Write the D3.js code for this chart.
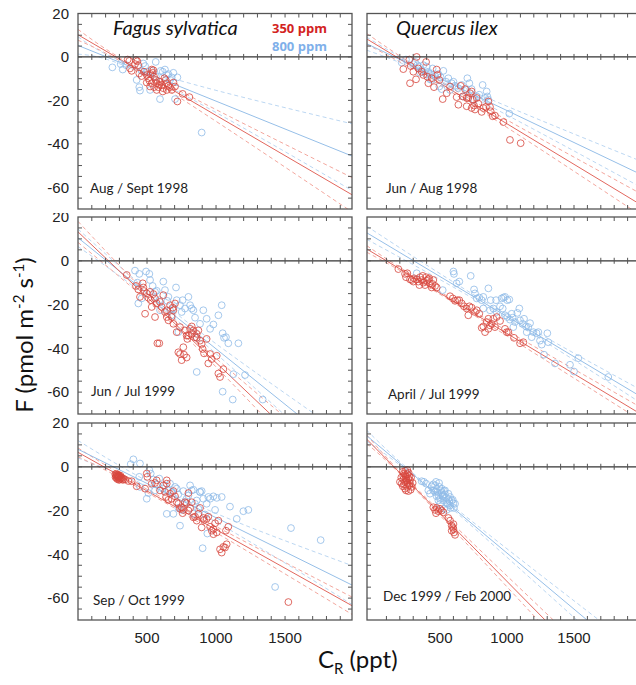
<!DOCTYPE html>
<html>
<head>
<meta charset="utf-8">
<script src="https://cdn.jsdelivr.net/npm/d3@7"></script>
<style>
  body { margin: 0; background: #fff; }
  svg { display: block; }
</style>
</head>
<body>
<svg id="chart" width="636" height="685"></svg>
<script>
// ---- data ----
const species = ["Fagus sylvatica", "Quercus ilex"];
const legendLabels = ["350 ppm", "800 ppm"];
const panelLabels = ["Aug / Sept 1998", "Jun / Aug 1998", "Jun / Jul 1999", "April / Jul 1999", "Sep / Oct 1999", "Dec 1999 / Feb 2000"];
const xTickLabels = [500, 1000, 1500];
const yTickLabels = [20, 0, -20, -40, -60];

// Fagus, Aug/Sept 1998
const fs98_350 = [[360,-1.2],[372,-1.8],[420,-1.5],[430,-2],[377,-5.3],[389,-6.4],[413,-3.3],[437,-3.8],[444,-7.6],[461,-8.8],[478,-6.8],[498,-8.3],[510,-9.8],[517,-10.9],[527,-7.9],[534,-5.8],[541,-7.3],[546,-6.1],[551,-9.1],[565,-10.6],[570,-12.1],[582,-13.9],[594,-11.4],[606,-12.9],[618,-14.4],[626,-9.8],[635,-10.6],[643,-12.1],[655,-13.3],[667,-13.9],[679,-15.2],[691,-11.8],[703,-13.6],[720,-20.5],[758,-17],[807,-18.5],[534,-12.1],[551,-13.9],[570,-15.2],[589,-12.9],[498,-11.8],[522,-13.6],[614,-15.9],[643,-15.2]];
const fs98_800 = [[249,-4.8],[309,-3.3],[324,-5.8],[348,-3.8],[425,-10.6],[444,-13.9],[449,-15.5],[473,-3],[486,-4.2],[563,-2.3],[522,-15.2],[594,-19.4],[599,-6.4],[630,-5.8],[643,-8.3],[655,-7.9],[679,-9.4],[691,-7.3],[703,-19.4],[720,-9.4],[896,-34.8],[534,-6.4],[565,-9.1],[498,-6.8],[461,-6.4],[667,-10.6],[614,-6.8]];
const fs98_fit350 = [[0,10.2],[2000,-64]];
const fs98_fit800 = [[0,5.3],[2000,-46]];
const fs98_band350 = [[[0,12.7],[570,-10],[2000,-56]], [[0,7.7],[570,-12],[2000,-72]]];
const fs98_band800 = [[[0,9.3],[550,-7.3],[2000,-31]], [[0,1.3],[550,-10.3],[2000,-62]]];

// Quercus, Jun/Aug 1998
const qi98_350 = [[271,-1.2],[326,0],[281,-4.2],[226,-5.6],[276,-12.1],[321,-10.3],[338,-5.3],[363,-6.8],[396,-2.3],[413,-12.1],[438,-9.8],[455,-13.9],[475,-5.8],[480,-8.3],[495,-10.6],[520,-19.4],[550,-16.7],[575,-13.6],[624,-18.5],[637,-22],[654,-13.3],[669,-18.2],[687,-14.8],[699,-18.9],[711,-18.9],[724,-16.7],[736,-15.9],[744,-19.7],[754,-22.4],[761,-24.2],[774,-18.9],[786,-21.5],[811,-25.3],[823,-23.5],[843,-23],[861,-20.5],[873,-23],[878,-25],[893,-27.3],[910,-27],[973,-30],[1022,-38.2],[1102,-39.7],[699,-22.7],[736,-23.5],[405,-9.1],[376,-8.3],[301,-6.8]];
const qi98_800 = [[214,-2.6],[246,-1.2],[301,-3.3],[313,-2.3],[331,-3.8],[346,-4.5],[363,-6.1],[376,-3.8],[396,-7.9],[413,-6.8],[425,-7.6],[445,-5.3],[463,-8.8],[488,-7.9],[505,-9.4],[525,-6.4],[545,-11.4],[562,-9.8],[575,-15.2],[587,-12.1],[600,-11.4],[612,-13.3],[637,-14.4],[662,-12.9],[674,-18.2],[704,-9.8],[719,-12.1],[736,-14.8],[754,-19.7],[774,-18.2],[793,-17.4],[818,-12.9],[836,-18.9],[848,-15.9],[853,-18.2],[861,-19.7],[1017,-26.1],[495,-13.6],[512,-14.8],[699,-15.2],[401,-4.5],[438,-10.6],[351,-7.3],[425,-10.3]];
const qi98_fit350 = [[-47,8.3],[2000,-68.1]];
const qi98_fit800 = [[-47,6.1],[2000,-54.1]];
const qi98_band350 = [[[-47,10.8],[650,-16.7],[2000,-63]], [[-47,5.8],[650,-18.7],[2000,-73]]];
const qi98_band800 = [[[-47,9.1],[600,-12],[2000,-48]], [[-47,3.1],[600,-14],[2000,-60]]];

// Fagus, Jun/Jul 1999
const fs99a_350 = [[353,-6.5],[420,-11.5],[437,-13.1],[449,-16.5],[469,-10.3],[473,-12.2],[478,-13.8],[486,-24.2],[498,-14.9],[510,-16.9],[527,-18],[534,-21.1],[546,-15.2],[558,-17.2],[570,-19.5],[575,-37.7],[589,-37.7],[606,-21.1],[618,-15.7],[630,-23.4],[643,-22.6],[655,-27.2],[667,-20.3],[679,-25.7],[691,-22.6],[703,-19.5],[715,-32.6],[727,-41.8],[739,-42.6],[751,-45.4],[763,-39.5],[768,-42.9],[775,-31.8],[787,-44.2],[792,-35.7],[800,-34.2],[812,-31.1],[824,-30],[836,-31.8],[848,-34.9],[860,-33.4],[872,-31.8],[884,-36.5],[896,-38],[903,-40.3],[913,-42.3],[932,-35.7],[944,-46.9],[957,-42.6],[969,-44.9],[1005,-43.4],[1017,-51.5],[1029,-53.1],[1053,-49.5],[558,-25.7],[643,-25.7],[691,-28.8],[739,-30.3],[787,-34.2],[824,-33.4],[860,-35.2],[686,-21.4],[594,-18.8],[522,-14.2]];
const fs99a_800 = [[413,-4.5],[444,-6],[493,-4.9],[517,-6],[430,-10],[437,-19.5],[461,-17.2],[522,-8.8],[541,-11.5],[558,-14.2],[570,-13.7],[589,-18],[594,-22.6],[618,-9.5],[630,-13.4],[647,-18.3],[667,-22.6],[679,-24.9],[691,-21.8],[715,-18],[727,-32.6],[751,-23.4],[758,-18],[775,-21.8],[800,-16.5],[812,-20.3],[824,-21.8],[836,-22.6],[848,-26],[860,-35.2],[884,-28.8],[908,-22.6],[932,-26.5],[957,-31.1],[981,-29.1],[1017,-24.9],[1041,-20.3],[1048,-33.1],[1058,-35.2],[1072,-34.9],[1089,-37.7],[1126,-51.8],[1162,-37.7],[1210,-52.2],[860,-50.8],[1048,-59.8],[1121,-63.4],[1338,-63.4],[739,-20.3],[655,-16.5],[710,-12.2]];
const fs99a_fit350 = [[0,13.2],[1500,-76.4]];
const fs99a_fit800 = [[0,10.5],[1800,-80.8]];
const fs99a_band350 = [[[0,18],[700,-27.4],[1500,-71.4]], [[0,8.4],[700,-29.8],[1500,-81.4]]];
const fs99a_band800 = [[[0,14.5],[750,-26],[1800,-73.8]], [[0,6.5],[750,-29],[1800,-87.8]]];

// Quercus, April/Jul 1999
const qi99_350 = [[189,-3.8],[239,-6],[256,-5.7],[246,-7.5],[276,-8.5],[289,-8.8],[306,-8],[326,-8.5],[338,-9.5],[351,-7.5],[363,-8.8],[376,-10],[388,-11.1],[401,-9.1],[413,-8.5],[425,-10.3],[438,-12.2],[450,-8.8],[463,-11.5],[475,-12.2],[371,-6.9],[396,-7.5],[420,-8],[445,-10.6],[575,-16.2],[595,-17.2],[612,-18.3],[629,-18],[644,-18],[662,-19.5],[679,-20.8],[699,-21.8],[711,-24.9],[719,-20.8],[736,-21.4],[761,-23.4],[774,-22.6],[793,-24.2],[811,-30.6],[823,-30],[836,-32.6],[848,-28],[861,-26.5],[873,-29.5],[886,-28.8],[898,-26.5],[910,-30.3],[923,-25.7],[948,-27.5],[985,-31.1],[998,-32.6],[1010,-32.6],[1052,-35.2],[1097,-37.7],[1122,-37.2],[861,-31.1],[301,-9.5],[346,-11.1]];
const qi99_800 = [[326,-5.7],[520,-13.4],[600,-4.9],[604,-6],[624,-10.3],[644,-9.5],[729,-6.9],[754,-13.1],[761,-14.9],[774,-17.2],[793,-16.8],[811,-18],[823,-16.5],[861,-12.6],[878,-18],[898,-21.8],[918,-18],[948,-20.8],[960,-17.2],[973,-16.8],[985,-16.5],[1002,-18],[1017,-17.7],[1035,-24.2],[968,-21.8],[985,-24.9],[1002,-25.7],[1022,-26.9],[1042,-26],[1060,-28],[1077,-23.8],[1092,-21.8],[1097,-27.2],[1117,-28.8],[1127,-26.5],[1142,-30],[1159,-30.3],[1172,-28.5],[1184,-34.9],[1197,-32.6],[1221,-33.1],[1234,-32.6],[1246,-36.5],[1259,-38.3],[1276,-42.9],[1301,-33.1],[1308,-37.2],[1358,-46.9],[1470,-47.5],[1500,-50.6],[1532,-44.5],[1756,-53.1],[823,-21.8],[873,-22.6],[923,-23.4],[1047,-30.3],[1147,-32.6]];
const qi99_fit350 = [[-47,5.4],[2000,-70.1]];
const qi99_fit800 = [[-47,12.8],[2000,-62.1]];
const qi99_band350 = [[[-47,6.9],[550,-16],[2000,-67]], [[-47,3.9],[550,-17.2],[2000,-73]]];
const qi99_band800 = [[[-47,15.8],[950,-22.9],[2000,-59]], [[-47,9.8],[950,-24.5],[2000,-65]]];

// Fagus, Sep/Oct 1999
const fs99b_350 = [[270,-3.5],[275,-4.2],[280,-3.8],[285,-4.6],[290,-4],[295,-5],[300,-4.4],[305,-5.3],[310,-4.8],[315,-5.6],[272,-4.8],[282,-5.2],[292,-4.5],[302,-5.8],[278,-3.2],[288,-3.6],[298,-3.9],[308,-4.1],[318,-5],[325,-6],[330,-5.5],[284,-5.6],[296,-6],[341,-5.8],[365,-6.5],[389,-6.6],[425,-8.9],[486,-10],[502,-4.6],[498,-3.1],[534,-7.7],[558,-7.4],[570,-6.2],[594,-10.8],[618,-8.5],[630,-11.5],[638,-13.8],[643,-6.2],[655,-15.1],[667,-12.3],[679,-14.6],[703,-13.5],[715,-16.2],[727,-16.9],[739,-19.2],[751,-18.5],[758,-21.2],[763,-19.7],[775,-16.2],[787,-16.6],[800,-20],[812,-18.8],[824,-16.2],[836,-23.1],[848,-22.8],[860,-24.6],[872,-21.5],[884,-18.8],[896,-27.7],[908,-23.4],[913,-24.3],[932,-23.8],[944,-22.8],[957,-27.4],[969,-29.2],[981,-30.8],[993,-25.8],[1017,-24.6],[1029,-37.7],[1041,-39.2],[1053,-36.6],[1065,-36.9],[1077,-35.4],[1072,-29.2],[1089,-27.4],[1524,-61.8],[691,-11.1],[981,-28.5],[1005,-30],[643,-7.7],[800,-12]];
const fs99b_800 = [[401,3.4],[382,1.2],[449,1.5],[517,-1.5],[527,-3.1],[444,-4.6],[498,-14.6],[510,-12],[546,-5.8],[570,-8],[589,-5.4],[614,-10],[630,-8.5],[643,-21.5],[655,-10.8],[679,-11.5],[691,-21.5],[703,-9.2],[715,-10],[727,-18.8],[739,-26.9],[751,-19.7],[775,-16.2],[787,-14.6],[800,-13.1],[812,-8.5],[824,-10.8],[836,-21.5],[848,-16.9],[860,-15.4],[872,-19.2],[884,-11.5],[896,-11.1],[908,-14.6],[920,-21.8],[932,-16.9],[944,-13.8],[957,-14.6],[981,-13.5],[993,-19.7],[1005,-14.2],[1041,-13.8],[1101,-18.2],[1150,-23.8],[1198,-20.3],[1234,-19.7],[903,-37.2],[937,-30.5],[1428,-54.9],[1543,-28],[1758,-33.5],[449,-9.2],[558,-10.8],[667,-7.7],[727,-12.6],[763,-11.1],[836,-10.5],[884,-11.5]];
const fs99b_fit350 = [[0,6.6],[2000,-64]];
const fs99b_fit800 = [[0,8],[2000,-54.5]];
const fs99b_band350 = [[[0,8.6],[650,-15.5],[2000,-60]], [[0,4.6],[650,-17.1],[2000,-68]]];
const fs99b_band800 = [[[0,12],[800,-15.8],[2000,-45.5]], [[0,4],[800,-18.2],[2000,-63.5]]];

// Quercus, Dec 1999/Feb 2000
const qi00_350 = [[222,-2.3],[231,-3.1],[239,-3.8],[246,-4.6],[256,-3.4],[264,-5.4],[271,-4.3],[251,-6.2],[239,-6.9],[226,-5.8],[214,-7.7],[222,-8.9],[239,-10],[256,-9.2],[271,-8.5],[281,-10.5],[264,-11.1],[246,-10.8],[289,-9.2],[296,-7.4],[276,-6.2],[256,-1.5],[241,-1.8],[226,-4.3],[266,-2.8],[284,-4.9],[211,-4.9],[201,-6.9],[231,-8],[256,-7.4],[246,-5.5],[276,-7.7],[450,-18.5],[463,-19.7],[470,-21.2],[475,-18.8],[488,-20.3],[500,-19.2],[512,-20],[525,-20.8],[562,-23.4],[575,-24.6],[587,-26.9],[595,-27.7],[600,-28.5],[604,-30],[612,-31.1],[587,-29.2],[600,-26.2]];
const qi00_800 = [[363,-6.6],[380,-6.9],[396,-7.7],[413,-10.8],[425,-12.3],[438,-8.9],[450,-8],[463,-8.5],[475,-10],[480,-11.5],[488,-13.1],[495,-9.2],[500,-14.6],[505,-10.8],[512,-12],[520,-13.5],[525,-15.4],[530,-11.1],[537,-12.6],[545,-14.2],[550,-16.2],[555,-16.9],[562,-14.6],[570,-15.7],[575,-17.7],[587,-15.4],[595,-15.1],[600,-16.6],[604,-18.8],[612,-16.9],[463,-11.5],[475,-13.5],[488,-15.4],[450,-10.8],[500,-16.9],[512,-10],[525,-13.1],[537,-10.8],[562,-12.3],[575,-13.8],[470,-6.9],[493,-7.4],[530,-19.2],[550,-19.7],[580,-18.8]];
const qi00_fit350 = [[-47,12.6],[1400,-77.2]];
const qi00_fit800 = [[-47,14.2],[1800,-80.4]];
const qi00_band350 = [[[-47,14.6],[350,-11.4],[1400,-73.2]], [[-47,10.6],[350,-12.6],[1400,-81.2]]];
const qi00_band800 = [[[-47,16.7],[500,-13.2],[1800,-75.4]], [[-47,11.7],[500,-14.4],[1800,-85.4]]];

// ---- layout ----
const cols = [
  { x0: 78, x1: 352, domain: [0, 1985] },
  { x0: 367, x1: 641, domain: [-45, 2000] }
];
const rows = [
  { y0: 13.5, y1: 209 },
  { y0: 217, y1: 414 },
  { y0: 423, y1: 620 }
];
const yDomain = [-70, 20];
const red = "#d7463e", blue = "#8fbbe8";
const redLine = "#e2675e", blueLine = "#96bfe8";
const redDash = "#f3a79e", blueDash = "#bcd7f2";

const panels = [
  { r: 0, c: 0, p350: fs98_350, p800: fs98_800, f350: fs98_fit350, f800: fs98_fit800, b350: fs98_band350, b800: fs98_band800 },
  { r: 0, c: 1, p350: qi98_350, p800: qi98_800, f350: qi98_fit350, f800: qi98_fit800, b350: qi98_band350, b800: qi98_band800 },
  { r: 1, c: 0, p350: fs99a_350, p800: fs99a_800, f350: fs99a_fit350, f800: fs99a_fit800, b350: fs99a_band350, b800: fs99a_band800 },
  { r: 1, c: 1, p350: qi99_350, p800: qi99_800, f350: qi99_fit350, f800: qi99_fit800, b350: qi99_band350, b800: qi99_band800 },
  { r: 2, c: 0, p350: fs99b_350, p800: fs99b_800, f350: fs99b_fit350, f800: fs99b_fit800, b350: fs99b_band350, b800: fs99b_band800 },
  { r: 2, c: 1, p350: qi00_350, p800: qi00_800, f350: qi00_fit350, f800: qi00_fit800, b350: qi00_band350, b800: qi00_band800 }
];

const svg = d3.select("#chart");
const defs = svg.append("defs");
const labelPos = [[90, 193], [386, 193], [91, 396], [388, 399], [93, 605], [383, 601]];

panels.forEach((p, i) => {
  const col = cols[p.c], row = rows[p.r];
  const x = d3.scaleLinear().domain(col.domain).range([col.x0, col.x1]);
  const y = d3.scaleLinear().domain(yDomain).range([row.y1, row.y0]);

  defs.append("clipPath").attr("id", "clip" + i)
    .append("rect")
    .attr("x", col.x0).attr("y", row.y0)
    .attr("width", col.x1 - col.x0).attr("height", row.y1 - row.y0);

  const g = svg.append("g");
  const inner = g.append("g").attr("clip-path", `url(#clip${i})`);

  const straight = d3.line().x(d => x(d[0])).y(d => y(d[1]));
  const curved = d3.line().x(d => x(d[0])).y(d => y(d[1])).curve(d3.curveNatural);

  // confidence bands
  p.b800.forEach(b => inner.append("path").attr("d", curved(b))
    .attr("fill", "none").attr("stroke", blueDash).attr("stroke-width", 1).attr("stroke-dasharray", "4,3"));
  p.b350.forEach(b => inner.append("path").attr("d", curved(b))
    .attr("fill", "none").attr("stroke", redDash).attr("stroke-width", 1).attr("stroke-dasharray", "4,3"));

  // fitted lines
  inner.append("path").attr("d", straight(p.f800))
    .attr("fill", "none").attr("stroke", blueLine).attr("stroke-width", 1);
  inner.append("path").attr("d", straight(p.f350))
    .attr("fill", "none").attr("stroke", redLine).attr("stroke-width", 1);

  inner.selectAll("circle.b").data(p.p800).join("circle")
    .attr("class", "b")
    .attr("cx", d => x(d[0])).attr("cy", d => y(d[1])).attr("r", 3.4)
    .attr("fill", "none").attr("stroke", blue).attr("stroke-width", 0.9).attr("stroke-opacity", 0.9);
  inner.selectAll("circle.r").data(p.p350).join("circle")
    .attr("class", "r")
    .attr("cx", d => x(d[0])).attr("cy", d => y(d[1])).attr("r", 3.4)
    .attr("fill", "none").attr("stroke", red).attr("stroke-width", 0.9).attr("stroke-opacity", 0.9);

  // frame and zero line
  g.append("rect")
    .attr("x", col.x0).attr("y", row.y0)
    .attr("width", col.x1 - col.x0).attr("height", row.y1 - row.y0)
    .attr("fill", "none").attr("stroke", "#555").attr("stroke-width", 1.3);
  g.append("line")
    .attr("x1", col.x0).attr("x2", col.x1).attr("y1", y(0)).attr("y2", y(0))
    .attr("stroke", "#333").attr("stroke-width", 1.3);

  // minor ticks
  const xt = d3.range(100, 2000, 100).filter(v => v > col.domain[0] && v < col.domain[1]);
  const yt = d3.range(-65, 20, 5);
  const tk = g.append("g").attr("stroke", "#555").attr("stroke-width", 1);
  xt.forEach(v => {
    tk.append("line").attr("x1", x(v)).attr("x2", x(v)).attr("y1", row.y0).attr("y2", row.y0 + 4);
    tk.append("line").attr("x1", x(v)).attr("x2", x(v)).attr("y1", row.y1).attr("y2", row.y1 - 4);
    tk.append("line").attr("x1", x(v)).attr("x2", x(v)).attr("y1", y(0) - 3).attr("y2", y(0) + 3);
  });
  yt.forEach(v => {
    tk.append("line").attr("x1", col.x0).attr("x2", col.x0 + 4).attr("y1", y(v)).attr("y2", y(v));
    tk.append("line").attr("x1", col.x1).attr("x2", col.x1 - 4).attr("y1", y(v)).attr("y2", y(v));
  });

  // y tick labels on the left column
  if (p.c === 0) {
    g.selectAll("text.yt").data(yTickLabels).join("text")
      .attr("class", "yt")
      .attr("x", 69).attr("y", d => y(d)).attr("dy", "0.35em")
      .attr("text-anchor", "end")
      .attr("font-family", "Liberation Sans, Arial, sans-serif")
      .attr("font-size", 15).attr("fill", "#222")
      .text(d => d);
  }
  // x tick labels on the bottom row
  if (p.r === 2) {
    g.selectAll("text.xt").data(xTickLabels).join("text")
      .attr("class", "xt")
      .attr("x", d => x(d)).attr("y", 643)
      .attr("text-anchor", "middle")
      .attr("font-family", "Liberation Sans, Arial, sans-serif")
      .attr("font-size", 15).attr("fill", "#222")
      .text(d => d);
  }

  g.append("text")
    .attr("x", labelPos[i][0]).attr("y", labelPos[i][1])
    .attr("font-family", "Lato, Open Sans, sans-serif")
    .attr("font-size", 13.5).attr("fill", "#222")
    .text(panelLabels[i]);
});

// the "20" labels of lower rows are partly hidden in the original
[rows[0].y1, rows[1].y1].forEach(yb => {
  svg.append("rect").attr("x", 40).attr("y", yb - 2).attr("width", 36).attr("height", 6).attr("fill", "#fff");
});

// species titles
svg.append("text").attr("x", 113).attr("y", 35)
  .attr("font-family", "Lato, Open Sans, sans-serif").attr("font-style", "italic")
  .attr("font-size", 20).attr("fill", "#111").text(species[0]);
svg.append("text").attr("x", 396).attr("y", 35)
  .attr("font-family", "Lato, Open Sans, sans-serif").attr("font-style", "italic")
  .attr("font-size", 20).attr("fill", "#111").text(species[1]);

// legend
svg.append("text").attr("x", 272).attr("y", 33)
  .attr("font-family", "Open Sans, Lato, sans-serif").attr("font-weight", "bold")
  .attr("font-size", 13).attr("fill", "#d3231f").text(legendLabels[0]);
svg.append("text").attr("x", 272).attr("y", 51)
  .attr("font-family", "Open Sans, Lato, sans-serif").attr("font-weight", "bold")
  .attr("font-size", 13).attr("fill", "#7fb0ea").text(legendLabels[1]);

// axis titles
const yTitle = svg.append("text")
  .attr("transform", "translate(33,335) rotate(-90)")
  .attr("text-anchor", "middle")
  .attr("font-family", "Lato, Open Sans, sans-serif")
  .attr("font-size", 24).attr("fill", "#111");
yTitle.append("tspan").text("F (pmol m");
yTitle.append("tspan").attr("font-size", 15).attr("dy", -9).text("-2");
yTitle.append("tspan").attr("dy", 9).text(" s");
yTitle.append("tspan").attr("font-size", 15).attr("dy", -9).text("-1");
yTitle.append("tspan").attr("dy", 9).text(")");

const xTitle = svg.append("text")
  .attr("x", 318).attr("y", 668)
  .attr("font-family", "Lato, Open Sans, sans-serif")
  .attr("font-size", 24).attr("fill", "#111");
xTitle.append("tspan").text("C");
xTitle.append("tspan").attr("font-size", 15).attr("dy", 6).text("R");
xTitle.append("tspan").attr("dy", -6).text(" (ppt)");
</script>
</body>
</html>
